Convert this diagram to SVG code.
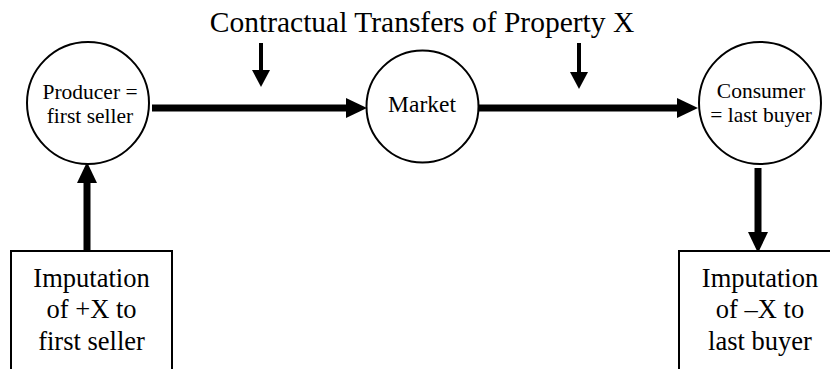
<svg xmlns="http://www.w3.org/2000/svg" width="830" height="369" viewBox="0 0 830 369">
<style>
  .node { fill: #fff; stroke: #000; stroke-width: 2; }
  .t { fill: #000; text-anchor: middle; }
  .thick { stroke: #000; stroke-width: 7; fill: none; }
  .thin { stroke: #000; stroke-width: 4; fill: none; }
</style>
<defs>
  <marker id="bigHead" markerUnits="userSpaceOnUse" markerWidth="22" markerHeight="20" refX="0" refY="10" orient="auto">
    <path d="M0,0 L21,10 L0,20 Z" fill="#000"/>
  </marker>
  <marker id="smallHead" markerUnits="userSpaceOnUse" markerWidth="18" markerHeight="19" refX="0" refY="9" orient="auto">
    <path d="M0,0 L17,9 L0,18 Z" fill="#000"/>
  </marker>
</defs>
<rect width="830" height="369" fill="#fff"/>
<g font-family="'Liberation Serif', 'Times New Roman', Tinos, 'DejaVu Serif', serif">
<text class="t" x="422" y="32" font-size="29.5">Contractual Transfers of Property X</text>
<g id="connectors">
  <line class="thick" x1="152" y1="108" x2="346" y2="108" marker-end="url(#bigHead)"/>
  <line class="thick" x1="479" y1="108" x2="677" y2="108" marker-end="url(#bigHead)"/>
  <line class="thick" x1="87" y1="252" x2="87" y2="183" marker-end="url(#bigHead)"/>
  <line class="thick" x1="758" y1="168" x2="758" y2="232" marker-end="url(#bigHead)"/>
  <line class="thin" x1="261" y1="43" x2="261" y2="70" marker-end="url(#smallHead)"/>
  <line class="thin" x1="579" y1="43" x2="579" y2="72" marker-end="url(#smallHead)"/>
</g>
<g id="producer">
  <circle class="node" cx="88" cy="103" r="61"/>
  <text class="t" x="90" y="98.5" font-size="21.5">Producer =</text>
  <text class="t" x="90" y="122.5" font-size="21.5">first seller</text>
</g>
<g id="market">
  <circle class="node" cx="422.5" cy="106.5" r="56"/>
  <text class="t" x="422" y="112" font-size="23.5">Market</text>
</g>
<g id="consumer">
  <circle class="node" cx="760" cy="103" r="61"/>
  <text class="t" x="761" y="98" font-size="21.5">Consumer</text>
  <text class="t" x="761" y="122" font-size="21.5">= last buyer</text>
</g>
<g id="imputation-plus">
  <rect class="node" x="11" y="251" width="161" height="130"/>
  <text class="t" x="91.5" y="287" font-size="26.5">Imputation</text>
  <text class="t" x="91.5" y="318" font-size="26.5">of +X to</text>
  <text class="t" x="91.5" y="350" font-size="26.5">first seller</text>
</g>
<g id="imputation-minus">
  <rect class="node" x="679" y="251" width="162" height="130"/>
  <text class="t" x="760" y="287" font-size="26.5">Imputation</text>
  <text class="t" x="760" y="318" font-size="26.5">of –X to</text>
  <text class="t" x="760" y="350" font-size="26.5">last buyer</text>
</g>
</g>
</svg>
